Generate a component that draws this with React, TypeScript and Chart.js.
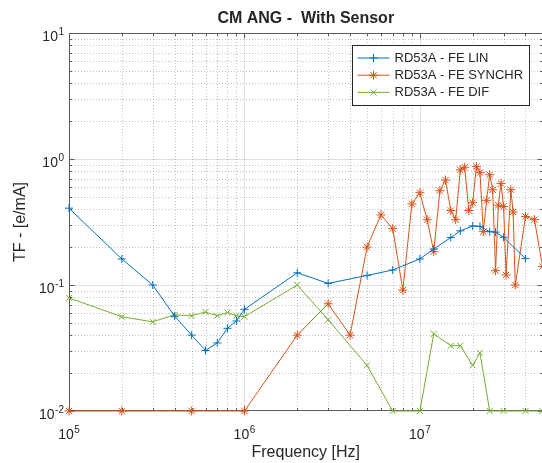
import React, { useEffect, useRef } from "react";
import { Chart, registerables } from "chart.js";

Chart.register(...registerables);

// ---------- text ----------
const TITLE = "CM ANG -  With Sensor";
const X_LABEL = "Frequency [Hz]";
const Y_LABEL = "TF - [e/mA]";
const SERIES_NAMES = ["RD53A - FE LIN", "RD53A - FE SYNCHR", "RD53A - FE DIF"];

// ---------- axes ----------
const X_MIN = 1e5;
const X_MAX = 5e7;
const Y_MIN = 1e-2;
const Y_MAX = 10;
const X_TICK_EXPONENTS = [5, 6, 7];
const Y_TICK_EXPONENTS = [-2, -1, 0, 1];

// ---------- data ----------
const linFreq = [1e5, 2e5, 3e5, 4e5, 5e5, 6e5, 7e5, 8e5, 9e5, 1e6, 2e6, 3e6, 5e6, 7e6, 1e7, 1.2e7, 1.5e7, 1.7e7, 2e7, 2.2e7, 2.5e7, 2.7e7, 3e7, 4e7];
const linVal = [0.407, 0.161, 0.1, 0.0566, 0.04, 0.0302, 0.0347, 0.0453, 0.0518, 0.0641, 0.125, 0.103, 0.119, 0.1315, 0.161, 0.193, 0.238, 0.269, 0.294, 0.292, 0.265, 0.263, 0.239, 0.162];

const syncFreq = [1e5, 2e5, 5e5, 1e6, 2e6, 3e6, 4e6, 5e6, 6e6, 7e6, 8e6, 9e6, 1e7, 1.1e7, 1.2e7, 1.3e7, 1.4e7, 1.5e7, 1.6e7, 1.7e7, 1.8e7, 1.9e7, 2e7, 2.1e7, 2.2e7, 2.3e7, 2.4e7, 2.5e7, 2.6e7, 2.7e7, 2.8e7, 2.9e7, 3e7, 3.1e7, 3.3e7, 3.4e7, 3.5e7, 4e7, 4.5e7, 5e7];
const syncVal = [0.01, 0.01, 0.01, 0.01, 0.04, 0.071, 0.04, 0.2, 0.36, 0.28, 0.091, 0.44, 0.54, 0.33, 0.184, 0.56, 0.68, 0.39, 0.33, 0.82, 0.86, 0.39, 0.45, 0.87, 0.78, 0.265, 0.47, 0.75, 0.57, 0.13, 0.43, 0.64, 0.42, 0.12, 0.57, 0.38, 0.1, 0.35, 0.33, 0.14];

const difFreq = [1e5, 2e5, 3e5, 4e5, 5e5, 6e5, 7e5, 8e5, 9e5, 1e6, 2e6, 3e6, 5e6, 7e6, 1e7, 1.2e7, 1.5e7, 1.7e7, 2e7, 2.2e7, 2.5e7, 3e7, 4e7, 5e7];
const difVal = [0.079, 0.056, 0.051, 0.058, 0.057, 0.061, 0.057, 0.0605, 0.057, 0.056, 0.1, 0.053, 0.023, 0.01, 0.01, 0.041, 0.033, 0.033, 0.023, 0.029, 0.01, 0.01, 0.01, 0.01];

// ---------- style ----------
const COLORS = ["#0072BD", "#D95319", "#77AC30"];
const MARKERS = ["cross", "star", "crossRot"];
const MARKER_R = [4, 4.5, 4.3];
const FONT = '"Liberation Sans", Arial, Helvetica, sans-serif';
const TEXT_COLOR = "#262626";

function drawMarker(ctx: CanvasRenderingContext2D, style: string, x: number, y: number, r: number) {
  ctx.beginPath();
  if (style === "cross" || style === "star") {
    ctx.moveTo(x - r, y);
    ctx.lineTo(x + r, y);
    ctx.moveTo(x, y - r);
    ctx.lineTo(x, y + r);
  }
  if (style === "crossRot" || style === "star") {
    const d = r * Math.SQRT1_2;
    ctx.moveTo(x - d, y - d);
    ctx.lineTo(x + d, y + d);
    ctx.moveTo(x - d, y + d);
    ctx.lineTo(x + d, y - d);
  }
  ctx.stroke();
}

function powerLabel(ctx: CanvasRenderingContext2D, exp: number, x: number, y: number, align: "center" | "right") {
  const base = "10";
  const sup = String(exp);
  ctx.font = `14px ${FONT}`;
  const wb = ctx.measureText(base).width;
  ctx.font = `10px ${FONT}`;
  const ws = ctx.measureText(sup).width;
  const total = wb + ws + 0.5;
  const x0 = align === "center" ? x - total / 2 : x - total;
  ctx.textAlign = "left";
  ctx.textBaseline = "alphabetic";
  ctx.fillStyle = TEXT_COLOR;
  ctx.font = `14px ${FONT}`;
  ctx.fillText(base, x0, y);
  ctx.font = `10px ${FONT}`;
  ctx.fillText(sup, x0 + wb + 0.5, y - 6);
}

const matlabPlugin = {
  id: "matlabAxes",
  beforeDatasetsDraw(chart: any) {
    const { ctx, chartArea: a, scales } = chart;
    const xs = scales.x;
    const ys = scales.y;
    ctx.save();
    ctx.lineWidth = 1;

    // minor grid (dotted)
    ctx.strokeStyle = "rgba(38,38,38,0.28)";
    ctx.setLineDash([1, 2]);
    ctx.beginPath();
    for (let e = 5; e <= 7; e++) {
      for (let m = 2; m <= 9; m++) {
        const v = m * Math.pow(10, e);
        if (v >= X_MAX) continue;
        const px = Math.round(xs.getPixelForValue(v)) + 0.5;
        ctx.moveTo(px, a.top);
        ctx.lineTo(px, a.bottom);
      }
    }
    for (let e = -2; e <= 0; e++) {
      for (let m = 2; m <= 9; m++) {
        const v = m * Math.pow(10, e);
        const py = Math.round(ys.getPixelForValue(v)) + 0.5;
        ctx.moveTo(a.left, py);
        ctx.lineTo(a.right, py);
      }
    }
    ctx.stroke();

    // major grid (solid)
    ctx.setLineDash([]);
    ctx.strokeStyle = "rgba(38,38,38,0.15)";
    ctx.beginPath();
    for (const e of X_TICK_EXPONENTS) {
      const v = Math.pow(10, e);
      if (v <= X_MIN || v >= X_MAX) continue;
      const px = Math.round(xs.getPixelForValue(v)) + 0.5;
      ctx.moveTo(px, a.top);
      ctx.lineTo(px, a.bottom);
    }
    for (const e of Y_TICK_EXPONENTS) {
      const v = Math.pow(10, e);
      if (v <= Y_MIN || v >= Y_MAX) continue;
      const py = Math.round(ys.getPixelForValue(v)) + 0.5;
      ctx.moveTo(a.left, py);
      ctx.lineTo(a.right, py);
    }
    ctx.stroke();

    // axes box
    const L = Math.round(a.left) + 0.5;
    const R = Math.round(a.right) - 0.5;
    const T = Math.round(a.top) + 0.5;
    const B = Math.round(a.bottom) - 0.5;
    ctx.strokeStyle = "#5c5c5c";
    ctx.beginPath();
    ctx.moveTo(L, T);
    ctx.lineTo(R, T);
    ctx.lineTo(R, B);
    ctx.lineTo(L, B);
    ctx.closePath();
    ctx.stroke();

    // tick marks (inward)
    ctx.beginPath();
    for (let e = 5; e <= 7; e++) {
      for (let m = 1; m <= 9; m++) {
        const v = m * Math.pow(10, e);
        if (v > X_MAX) continue;
        const len = m === 1 ? 5 : 2.5;
        const px = Math.round(xs.getPixelForValue(v)) + 0.5;
        ctx.moveTo(px, B);
        ctx.lineTo(px, B - len);
        ctx.moveTo(px, T);
        ctx.lineTo(px, T + len);
      }
    }
    for (let e = -2; e <= 1; e++) {
      for (let m = 1; m <= 9; m++) {
        const v = m * Math.pow(10, e);
        if (v > Y_MAX) continue;
        const len = m === 1 ? 5 : 2.5;
        const py = Math.round(ys.getPixelForValue(v)) + 0.5;
        ctx.moveTo(L, py);
        ctx.lineTo(L + len, py);
        ctx.moveTo(R, py);
        ctx.lineTo(R - len, py);
      }
    }
    ctx.stroke();
    ctx.restore();
  },
  afterDatasetsDraw(chart: any) {
    const { ctx, chartArea: a, scales } = chart;
    const xs = scales.x;
    const ys = scales.y;
    ctx.save();

    // tick labels
    for (const e of X_TICK_EXPONENTS) {
      const px = xs.getPixelForValue(Math.pow(10, e));
      powerLabel(ctx, e, px, a.bottom + 28, "center");
    }
    for (const e of Y_TICK_EXPONENTS) {
      const py = ys.getPixelForValue(Math.pow(10, e));
      powerLabel(ctx, e, a.left - 5, py + 8, "right");
    }

    const cx = (a.left + a.right) / 2;
    // title
    ctx.fillStyle = TEXT_COLOR;
    ctx.textAlign = "center";
    ctx.textBaseline = "alphabetic";
    ctx.font = `bold 16px ${FONT}`;
    ctx.fillText(TITLE, cx, 23);
    // x label
    ctx.font = `16px ${FONT}`;
    ctx.fillText(X_LABEL, cx, 457);
    // y label
    ctx.save();
    ctx.translate(21, (a.top + a.bottom) / 2);
    ctx.rotate(-Math.PI / 2);
    ctx.textBaseline = "middle";
    ctx.fillText(Y_LABEL, 0, 0);
    ctx.restore();

    // legend
    const boxR = Math.round(a.right) - 14 + 0.5;
    const boxL = boxR - 177;
    const boxT = Math.round(a.top) + 12 + 0.5;
    const boxB = boxT + 60;
    ctx.fillStyle = "#ffffff";
    ctx.fillRect(boxL, boxT, boxR - boxL, boxB - boxT);
    ctx.strokeStyle = TEXT_COLOR;
    ctx.lineWidth = 1;
    ctx.strokeRect(boxL, boxT, boxR - boxL, boxB - boxT);
    chart.data.datasets.forEach((ds: any, i: number) => {
      const y = boxT + 12.5 + i * 17.2;
      ctx.strokeStyle = COLORS[i];
      ctx.lineWidth = 1;
      ctx.beginPath();
      ctx.moveTo(boxL + 5, y);
      ctx.lineTo(boxL + 37, y);
      ctx.stroke();
      drawMarker(ctx, MARKERS[i], boxL + 21, y, MARKER_R[i]);
      ctx.fillStyle = TEXT_COLOR;
      ctx.font = `13px ${FONT}`;
      ctx.textAlign = "left";
      ctx.textBaseline = "middle";
      ctx.fillText(ds.label, boxL + 42, y + 0.5);
    });
    ctx.restore();
  },
};

function series(freq: number[], val: number[]) {
  return freq.map((f, i) => ({ x: f, y: val[i] }));
}

export default function App() {
  const ref = useRef<HTMLCanvasElement>(null);
  useEffect(() => {
    const canvas = ref.current;
    if (!canvas) return;
    const sets = [
      series(linFreq, linVal),
      series(syncFreq, syncVal),
      series(difFreq, difVal),
    ];
    const chart = new Chart(canvas, {
      type: "line",
      data: {
        datasets: sets.map((d, i) => ({
          label: SERIES_NAMES[i],
          data: d,
          borderColor: COLORS[i],
          backgroundColor: COLORS[i],
          borderWidth: 1,
          pointStyle: MARKERS[i] as any,
          pointRadius: MARKER_R[i],
          pointBorderColor: COLORS[i],
          pointBorderWidth: 1,
          pointHoverRadius: MARKER_R[i],
          tension: 0,
          fill: false,
          clip: false as any,
        })),
      },
      options: {
        responsive: false,
        animation: false,
        devicePixelRatio: 1,
        layout: { padding: { left: 69, top: 33, right: 1, bottom: 52 } },
        scales: {
          x: { type: "logarithmic", min: X_MIN, max: X_MAX, display: false },
          y: { type: "logarithmic", min: Y_MIN, max: Y_MAX, display: false },
        },
        plugins: {
          legend: { display: false },
          title: { display: false },
          tooltip: { enabled: false },
        },
        events: [],
      },
      plugins: [matlabPlugin],
    });
    return () => chart.destroy();
  }, []);
  return (
    <div style={{ position: "fixed", left: 0, top: 0, width: 542, height: 463, overflow: "hidden", background: "#ffffff" }}>
      <canvas ref={ref} width={548} height={463} style={{ display: "block", width: 548, height: 463 }} />
    </div>
  );
}
